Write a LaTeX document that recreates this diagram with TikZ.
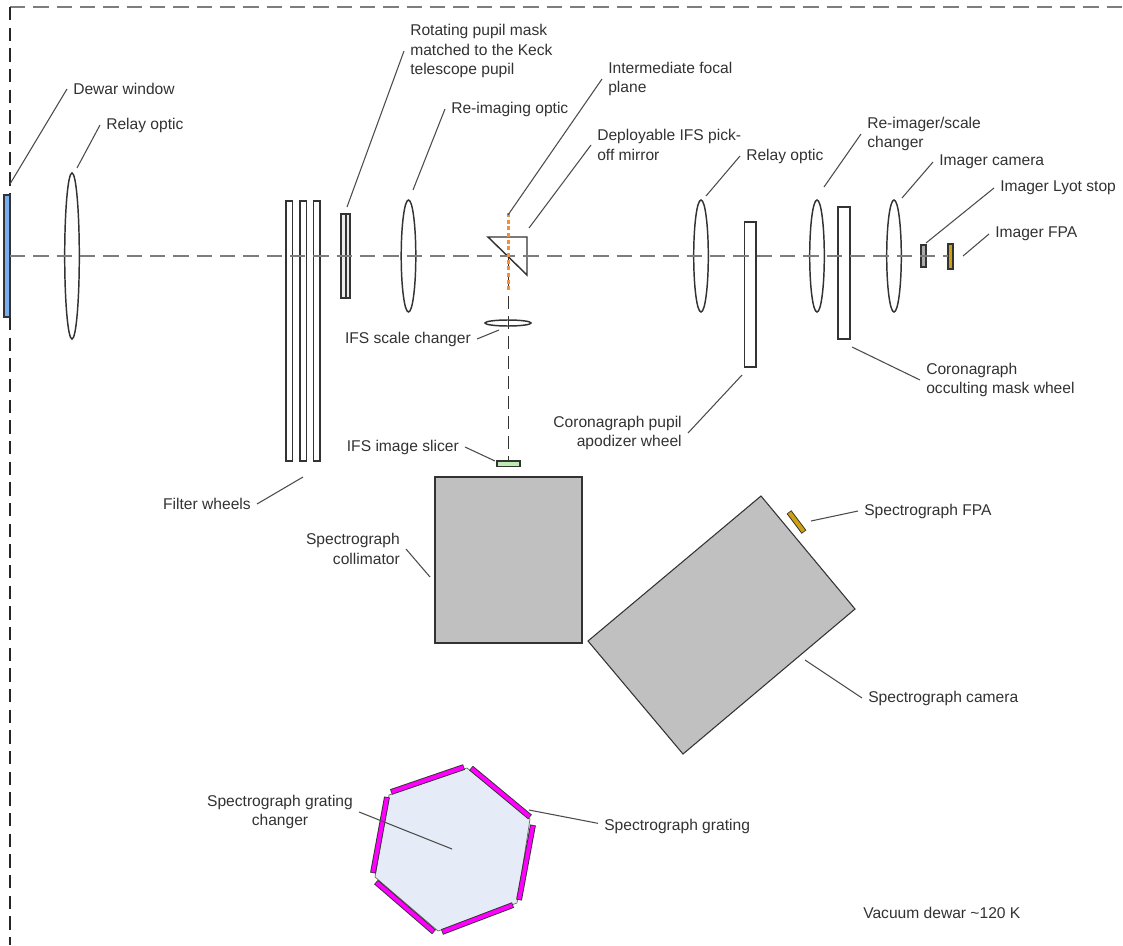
\documentclass[tikz,border=0pt]{standalone}
\usepackage{fontspec}
\setmainfont{Liberation Sans}
\definecolor{windowBlue}{RGB}{120,175,240}
\definecolor{slicerGreen}{RGB}{190,235,180}
\definecolor{stopGray}{RGB}{170,170,170}
\definecolor{fpaGold}{RGB}{205,160,20}
\definecolor{opticGray}{RGB}{192,192,192}
\definecolor{changerBlue}{RGB}{230,236,247}
\definecolor{gratingMagenta}{RGB}{255,0,255}
\definecolor{axisGray}{RGB}{125,125,125}
\definecolor{beamOrange}{RGB}{250,140,50}
\definecolor{labelInk}{RGB}{50,50,50}
\tikzset{
  optic/.style={draw=black!80,line width=1.1pt},
  leader/.style={draw=black!70,line width=0.8pt},
  lbl/.style={font=\fontsize{11.7}{14.6}\selectfont,text=labelInk,inner xsep=4.5pt,inner ysep=2pt,anchor=west,align=left},
  axisline/.style={draw=axisGray,line width=2pt,dash pattern=on 11.5pt off 6pt},
  beamline/.style={draw=black!80,line width=0.9pt,dash pattern=on 10pt off 5pt},
  barseg/.style={draw=black!80,line width=4.4pt,postaction={draw=#1,line width=3pt,shorten >=0.6pt,shorten <=0.6pt}}
}
\begin{document}
\begin{tikzpicture}[x=0.75pt,y=-0.75pt]
  \useasboundingbox (0,0) rectangle (1123,945);
  % Dewar boundary
  \coordinate (dewarCorner) at (10,7);
  \coordinate (dewarRight) at (1123,7);
  \coordinate (dewarBottom) at (10,945);
  \draw[draw=axisGray,line width=1.7pt,dash pattern=on 11.5pt off 6pt] (dewarCorner) -- (dewarRight);
  \draw[draw=black!85,line width=0.9pt,dash pattern=on 10pt off 5.5pt] (dewarCorner) -- (dewarBottom);
  % Dewar window
  \draw[optic,fill=windowBlue] (4,195) rectangle (10,317);
  % Lenses
  \foreach \cx/\ry in {72/83,408.5/56,701/56,817/56,894/56}
    \draw[optic] (\cx,256) ellipse [x radius=7.3,y radius=\ry];
  \draw[optic] (508,323) ellipse [x radius=23,y radius=3];
  % Filter wheels
  \foreach \fx in {286,300,313.5}
    \draw[optic] (\fx,201) rectangle ++(6.5,260);
  % Pupil mask
  \draw[optic,fill=black!8] (341,214) rectangle (350,298);
  \draw[optic] (346,214) -- (346,298);
  % Pick-off mirror
  \draw[optic] (488,237) -- (527,237) -- (527,275) -- cycle;
  % Coronagraph wheels
  \draw[optic] (744.5,222) rectangle (756,367);
  \draw[optic] (838,207) rectangle (850,339);
  % Imager stop and FPA
  \draw[optic,fill=stopGray] (921,245) rectangle (926,267);
  \draw[optic,fill=fpaGold] (948,244) rectangle (953,269);
  % Optical axis
  \coordinate (axisStart) at (10,256);
  \coordinate (axisEnd) at (948,256);
  \draw[axisline] (axisStart) -- (axisEnd);
  % IFS beam
  \coordinate (beamTurn) at (508.5,256);
  \coordinate (beamEnd) at (508.5,461);
  \coordinate (focalTop) at (508.5,213);
  \coordinate (focalBottom) at (508.5,292);
  \draw[beamline] (beamTurn) -- (beamEnd);
  \draw[draw=beamOrange,line width=1.9pt,dash pattern=on 3pt off 2pt] (focalTop) -- (focalBottom);
  \draw[optic,fill=slicerGreen] (497,461) rectangle (520,466.5);
  % Spectrograph
  \draw[optic,fill=opticGray] (435,477) rectangle (582,643);
  \draw[optic,fill=opticGray,line width=0.8pt] (761,496) -- (855,609) -- (683,754) -- (588,641) -- cycle;
  \coordinate (fpaA) at (789,512);
  \coordinate (fpaB) at (804,532);
  \draw[barseg=fpaGold] (fpaA) -- (fpaB);
  % Grating changer
  \draw[draw=black!60,line width=0.5pt,fill=changerBlue] (389,795) -- (467,768) -- (530,819) -- (517,903) -- (438,931) -- (375,877) -- cycle;
  \foreach \ax/\ay/\bx/\by in {391/792/464/767,471/768/530/817,533/825/519/900,513/905/442/932,434/932/376/882,373/873/387/797}
    \draw[barseg=gratingMagenta] (\ax,\ay) -- (\bx,\by);
  % Labels
  \node[lbl] (lblWindow) at (67,89) {Dewar window};
  \node[lbl] (lblRelayA) at (100,125) {Relay optic};
  \node[lbl] (lblMask) at (404,51) {Rotating pupil mask\\matched to the Keck\\telescope pupil};
  \node[lbl] (lblReimaging) at (445,109) {Re-imaging optic};
  \node[lbl] (lblFocal) at (602,79) {Intermediate focal\\plane};
  \node[lbl] (lblPickoff) at (591,145) {Deployable IFS pick-\\off mirror};
  \node[lbl] (lblRelayB) at (740,156) {Relay optic};
  \node[lbl] (lblScale) at (861,134) {Re-imager/scale\\changer};
  \node[lbl] (lblCamera) at (933,162) {Imager camera};
  \node[lbl] (lblLyot) at (994,188) {Imager Lyot stop};
  \node[lbl] (lblFpa) at (989,234) {Imager FPA};
  \node[lbl] (lblOcculting) at (920,380) {Coronagraph\\occulting mask wheel};
  \node[lbl,anchor=east,align=right] (lblApodizer) at (688,433) {Coronagraph pupil\\apodizer wheel};
  \node[lbl,anchor=east] (lblIfsScale) at (477,339) {IFS scale changer};
  \node[lbl,anchor=east] (lblSlicer) at (465,447) {IFS image slicer};
  \node[lbl,anchor=east] (lblFilters) at (257,504) {Filter wheels};
  \node[lbl,anchor=east,align=right] (lblCollimator) at (406,549) {Spectrograph\\collimator};
  \node[lbl] (lblSpecFpa) at (858,511) {Spectrograph FPA};
  \node[lbl] (lblSpecCamera) at (862,698) {Spectrograph camera};
  \node[lbl,anchor=center,align=center] (lblChanger) at (280,812) {Spectrograph grating\\changer};
  \node[lbl] (lblGrating) at (598,826) {Spectrograph grating};
  \node[lbl] (lblVacuum) at (857,913) {Vacuum dewar \textasciitilde120 K};
  % Leader ends
  \coordinate (ptWindow) at (10,184);
  \coordinate (ptRelayA) at (77,168);
  \coordinate (ptMask) at (347,207);
  \coordinate (ptReimaging) at (413,190);
  \coordinate (ptFocal) at (508,215);
  \coordinate (ptPickoff) at (529,228);
  \coordinate (ptRelayB) at (706,196);
  \coordinate (ptScale) at (824,187);
  \coordinate (ptCamera) at (902,198);
  \coordinate (ptLyot) at (926,243);
  \coordinate (ptFpa) at (963,256);
  \coordinate (ptOcculting) at (852,347);
  \coordinate (ptApodizer) at (742,375);
  \coordinate (ptIfsScale) at (499,330);
  \coordinate (ptSlicer) at (495,461);
  \coordinate (ptFilters) at (303,477);
  \coordinate (ptCollimator) at (430,577);
  \coordinate (ptSpecFpa) at (811,521);
  \coordinate (ptSpecCamera) at (805,660);
  \coordinate (ptChanger) at (452,849);
  \coordinate (ptGrating) at (529,810);
  % Leaders
  \draw[leader] (lblWindow.west) -- (ptWindow);
  \draw[leader] (lblRelayA.west) -- (ptRelayA);
  \draw[leader] (lblMask.west) -- (ptMask);
  \draw[leader] (lblReimaging.west) -- (ptReimaging);
  \draw[leader] (lblFocal.west) -- (ptFocal);
  \draw[leader] (lblPickoff.west) -- (ptPickoff);
  \draw[leader] (lblRelayB.west) -- (ptRelayB);
  \draw[leader] (lblScale.west) -- (ptScale);
  \draw[leader] (lblCamera.west) -- (ptCamera);
  \draw[leader] (lblLyot.west) -- (ptLyot);
  \draw[leader] (lblFpa.west) -- (ptFpa);
  \draw[leader] (lblOcculting.west) -- (ptOcculting);
  \draw[leader] (lblApodizer.east) -- (ptApodizer);
  \draw[leader] (lblIfsScale.east) -- (ptIfsScale);
  \draw[leader] (lblSlicer.east) -- (ptSlicer);
  \draw[leader] (lblFilters.east) -- (ptFilters);
  \draw[leader] (lblCollimator.east) -- (ptCollimator);
  \draw[leader] (lblSpecFpa.west) -- (ptSpecFpa);
  \draw[leader] (lblSpecCamera.west) -- (ptSpecCamera);
  \draw[leader] (lblChanger.east) -- (ptChanger);
  \draw[leader] ([yshift=2pt]lblGrating.west) -- (ptGrating);
\end{tikzpicture}
\end{document}
